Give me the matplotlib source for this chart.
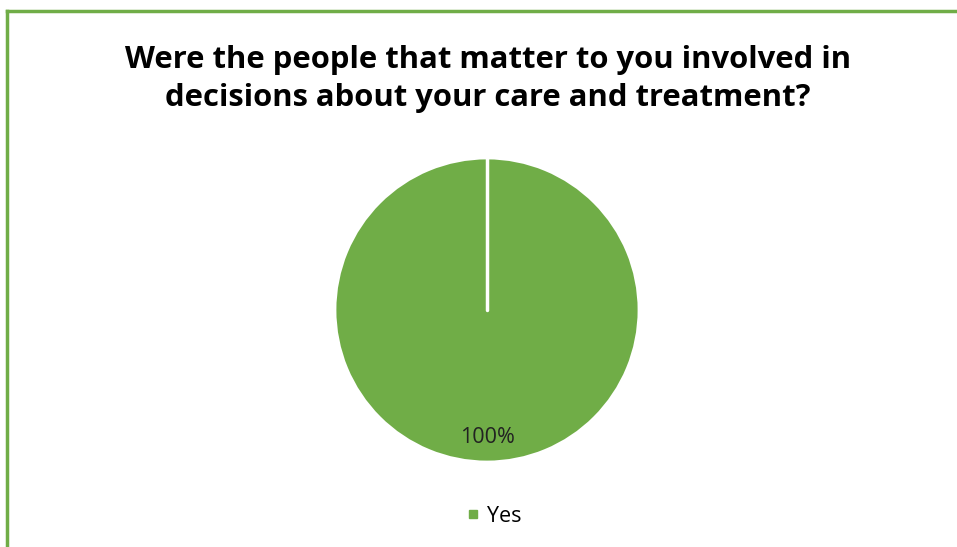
import numpy as np
import matplotlib.pyplot as plt
from matplotlib.lines import Line2D

labels = ['Yes']
values = [100]
title = 'Were the people that matter to you involved in\ndecisions about your care and treatment?'

green = '#70AD47'

fig = plt.figure(figsize=(9.57, 5.47), dpi=100)
W, H = 957, 547

# green border only on top and left
fig.add_artist(Line2D([7 / W, 7 / W], [0, 1 - 11 / H], color=green, lw=2.5, transform=fig.transFigure))
fig.add_artist(Line2D([7 / W, 1], [1 - 11 / H, 1 - 11 / H], color=green, lw=2.5, transform=fig.transFigure))

fig.text(488 / W, 1 - 79 / H, title, ha='center', va='center', fontsize=22.3,
         fontweight='bold', family='Open Sans', linespacing=1.33)

cx, cy, r = 487, 310, 152
ax = fig.add_axes([(cx - r) / W, (H - cy - r) / H, 2 * r / W, 2 * r / H])
wedges, texts, autotexts = ax.pie(values, colors=[green], startangle=90, counterclock=False,
                                  autopct='%1.0f%%', pctdistance=0.84,
                                  wedgeprops=dict(edgecolor='white', linewidth=2))
# radial edge of the single slice
for w in wedges:
    th = np.deg2rad(w.theta1)
    ax.plot([0, w.r * np.cos(th)], [0, w.r * np.sin(th)], color='white', lw=2.5,
            solid_capstyle='round')
for t in autotexts:
    t.set_fontsize(15.5)
    t.set_family('Open Sans')
    t.set_color('#222222')
ax.set_xlim(-1.0, 1.0)
ax.set_ylim(-1.0, 1.0)
ax.axis('off')

handles = [Line2D([], [], marker='s', color=green, linestyle='none', markersize=6)]
fig.legend(handles, labels, loc='center', bbox_to_anchor=(491 / W, 1 - 516 / H), frameon=False,
           prop={'family': 'Open Sans', 'size': 15.5}, handletextpad=0.1, handlelength=1.1)

fig.savefig('out.png', dpi=100, facecolor='white')
